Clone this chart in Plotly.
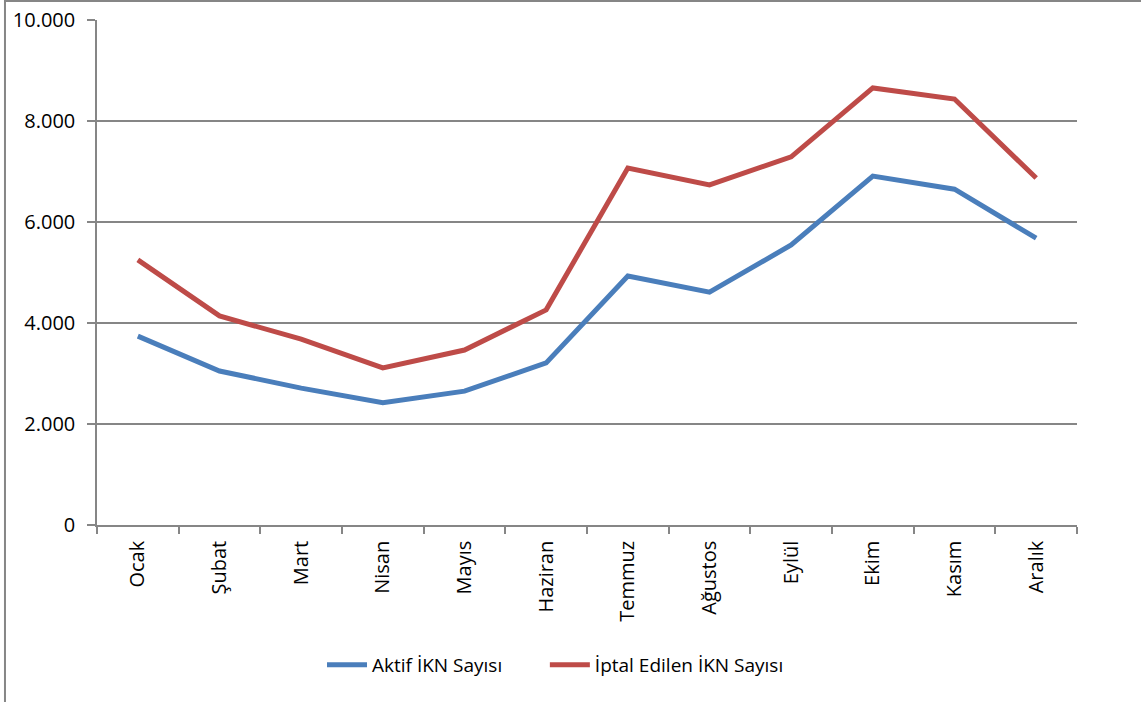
import plotly.graph_objects as go

months = ["Ocak", "Şubat", "Mart", "Nisan", "Mayıs", "Haziran", "Temmuz",
          "Ağustos", "Eylül", "Ekim", "Kasım", "Aralık"]
aktif = [3740, 3050, 2710, 2420, 2650, 3210, 4930, 4610, 5545, 6910, 6650, 5680]
iptal = [5250, 4140, 3680, 3110, 3465, 4260, 7070, 6735, 7290, 8655, 8435, 6870]
yticks = [0, 2000, 4000, 6000, 8000, 10000]

fig = go.Figure()
fig.add_trace(go.Scatter(x=months, y=aktif, mode="lines", name="Aktif İKN Sayısı",
                         line=dict(color="#4A7EBB", width=5), legend="legend"))
fig.add_trace(go.Scatter(x=months, y=iptal, mode="lines", name="İptal Edilen İKN Sayısı",
                         line=dict(color="#BE4B48", width=5), legend="legend2"))

font = "Open Sans, Lato, sans-serif"
leg_common = dict(orientation="h", xanchor="left", y=-0.277, yanchor="middle",
                  font=dict(size=19), itemwidth=40, bgcolor="rgba(0,0,0,0)")
fig.update_layout(
    width=1141, height=702,
    margin=dict(l=97, r=64, t=20, b=177, autoexpand=False),
    paper_bgcolor="white", plot_bgcolor="white",
    separators=",.",
    font=dict(family=font, size=19, color="black"),
    showlegend=True,
    legend=dict(x=0.2296, **leg_common),
    legend2=dict(x=0.457, **leg_common),
    xaxis=dict(type="category", range=[-0.5, 11.5], tickangle=-90, showgrid=False,
               showline=True, automargin=False, ticklabelstandoff=6,
               linecolor="#868686", linewidth=1.5, ticks="outside", tickson="boundaries",
               ticklen=7, tickcolor="#868686", tickwidth=1.5, tickfont=dict(size=20)),
    yaxis=dict(range=[0, 10000], tickvals=yticks, tickformat=",.0f", automargin=False,
               ticklabelstandoff=8,
               showgrid=True, gridcolor="#868686", gridwidth=1.5, showline=True,
               linecolor="#868686", linewidth=1.5, ticks="outside", ticklen=8,
               tickcolor="#868686", tickwidth=1.5, zeroline=False, tickfont=dict(size=20)),
)
# outer chart border (left and top edges)
fig.add_shape(type="line", xref="paper", yref="paper", x0=-0.0939, x1=-0.0939,
              y0=1.04, y1=-0.36, line=dict(color="#868686", width=2))
fig.add_shape(type="line", xref="paper", yref="paper", x0=-0.0939, x1=1.07,
              y0=1.0376, y1=1.0376, line=dict(color="#868686", width=2))

fig.write_html("out.html", config={"displayModeBar": False},
               post_script="document.body.style.margin='0';")
